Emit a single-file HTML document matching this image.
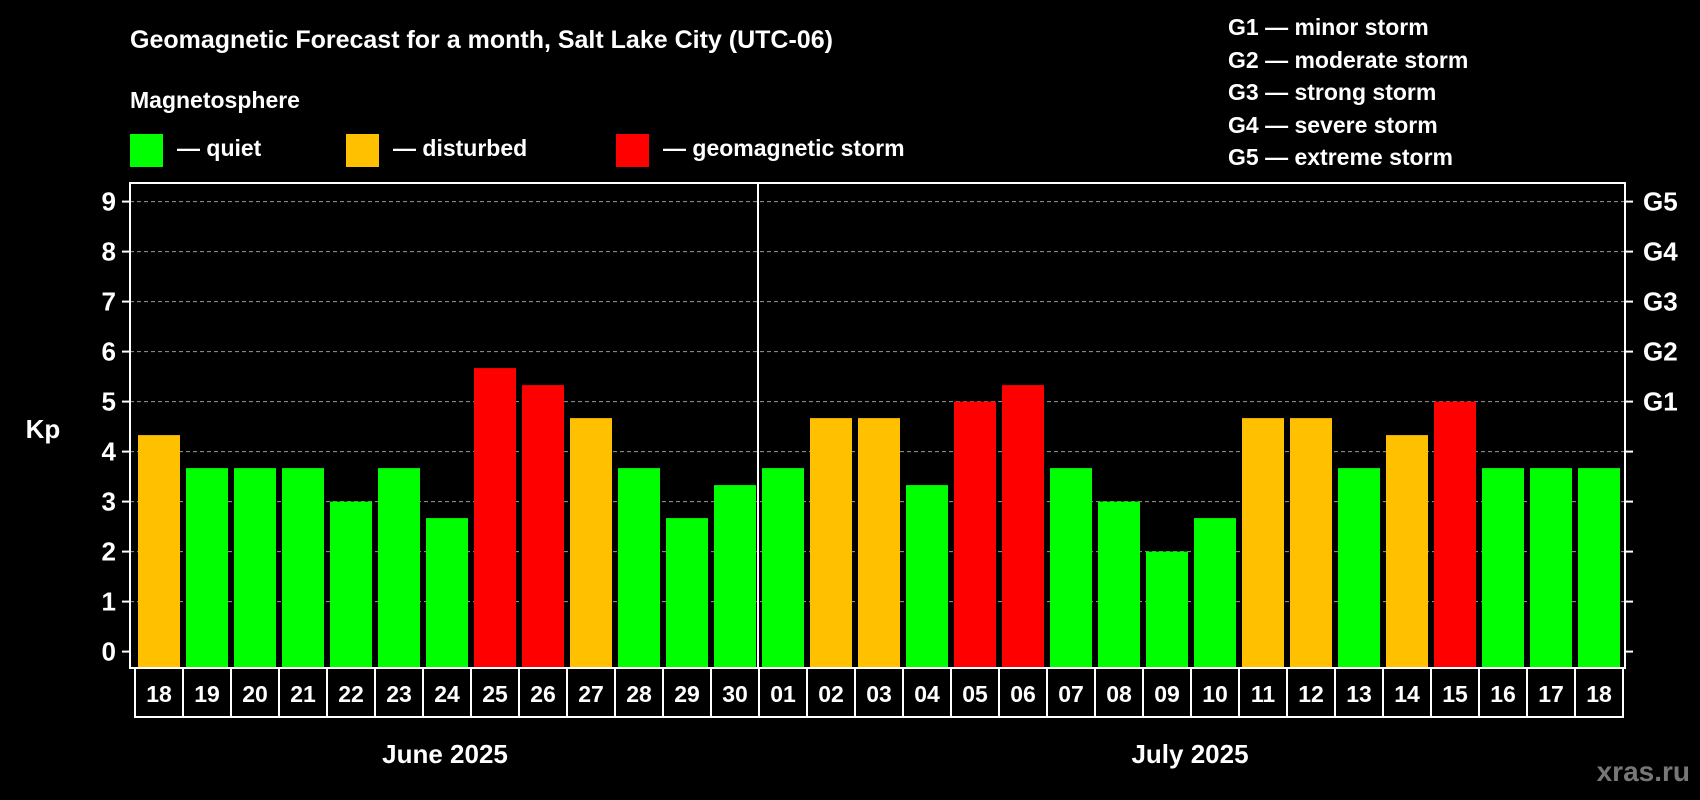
<!DOCTYPE html>
<html><head><meta charset="utf-8"><style>
html,body{margin:0;padding:0;background:#000;}
svg{display:block;font-family:"Liberation Sans",Arial,sans-serif;font-weight:bold;}
</style></head><body>
<svg id="chart" width="1700" height="800" viewBox="0 0 1700 800">
<rect width="1700" height="800" fill="#000"/>
<text x="130" y="48" fill="#fff" font-size="25">Geomagnetic Forecast for a month, Salt Lake City (UTC-06)</text>
<text x="130" y="108" fill="#fff" font-size="23">Magnetosphere</text>
<g><rect x="130" y="134" width="33" height="33" fill="#00ff00"/><text x="177" y="156" fill="#fff" font-size="23">— quiet</text></g>
<g><rect x="346" y="134" width="33" height="33" fill="#ffc000"/><text x="393" y="156" fill="#fff" font-size="23">— disturbed</text></g>
<g><rect x="616" y="134" width="33" height="33" fill="#ff0000"/><text x="663" y="156" fill="#fff" font-size="23">— geomagnetic storm</text></g>
<g fill="#fff" font-size="23">
<text x="1228" y="35">G1 — minor storm</text>
<text x="1228" y="68">G2 — moderate storm</text>
<text x="1228" y="100">G3 — strong storm</text>
<text x="1228" y="133">G4 — severe storm</text>
<text x="1228" y="165">G5 — extreme storm</text>
</g>
<text x="43" y="438" fill="#fff" font-size="26" text-anchor="middle">Kp</text>
<text x="1690" y="781" fill="#777" font-size="28" text-anchor="end">xras.ru</text>
<text x="445" y="763" fill="#fff" font-size="26" text-anchor="middle">June 2025</text>
<text x="1190" y="763" fill="#fff" font-size="26" text-anchor="middle">July 2025</text>
<g id="plot"></g>
</svg>
<script>
const days = ["18","19","20","21","22","23","24","25","26","27","28","29","30","01","02","03","04","05","06","07","08","09","10","11","12","13","14","15","16","17","18"];
const kpValues = [4.33,3.67,3.67,3.67,3,3.67,2.67,5.67,5.33,4.67,3.67,2.67,3.33,3.67,4.67,4.67,3.33,5,5.33,3.67,3,2,2.67,4.67,4.67,3.67,4.33,5,3.67,3.67,3.67];
const levels = ["disturbed","quiet","quiet","quiet","quiet","quiet","quiet","storm","storm","disturbed","quiet","quiet","quiet","quiet","disturbed","disturbed","quiet","storm","storm","quiet","quiet","quiet","quiet","disturbed","disturbed","quiet","disturbed","storm","quiet","quiet","quiet"];
const yTicks = [0,1,2,3,4,5,6,7,8,9];
const gLabels = ["","","","","","G1","G2","G3","G4","G5"];
const colors = {quiet:"#00ff00",disturbed:"#ffc000",storm:"#ff0000"};
const NS="http://www.w3.org/2000/svg";
const plot=document.getElementById('plot');
const L=130,R=1625,T=183,B=668,cellX0=135,cellW=48;
function y(v){return 651.6-v*50;}
function x(i){return cellX0+i*cellW;}
function mk(tag,attrs,parent){const e=document.createElementNS(NS,tag);for(const k in attrs)e.setAttribute(k,attrs[k]);(parent||plot).appendChild(e);return e;}
yTicks.forEach((t,i)=>{
  if(t>0){const g=mk('line',{x1:L,x2:R,y1:y(t),y2:y(t),stroke:'#999','stroke-dasharray':'4,3','stroke-width':1});
  
  }
  const tk=mk('line',{x1:L-8,x2:L,y1:y(t),y2:y(t),stroke:'#fff','stroke-width':2});
  
  
  const tr=mk('line',{x1:R,x2:R+8,y1:y(t),y2:y(t),stroke:'#fff','stroke-width':2});
  
  
  const lb=mk('text',{x:L-14,y:y(t)+9,fill:'#fff','font-size':26,'text-anchor':'end'});
  lb.textContent=t;
  
  
  if(gLabels[i]){const gl=mk('text',{x:1643,y:y(t)+9,fill:'#fff','font-size':26});
  gl.textContent=gLabels[i];
  
  }
});
kpValues.forEach((v,i)=>{
  const b=mk('rect',{x:x(i)+3,y:y(v),width:42,height:B-y(v),fill:colors[levels[i]]});
  
  
  const c=mk('rect',{x:x(i),y:B,width:cellW,height:49,fill:'none',stroke:'#fff','stroke-width':2});
  
  
  const t=mk('text',{x:x(i)+cellW/2,y:B+34,fill:'#fff','font-size':23,'text-anchor':'middle'});
  t.textContent=days[i];
  
  
});
const fr=mk('rect',{x:L,y:T,width:R-L,height:B-T,fill:'none',stroke:'#fff','stroke-width':2});


const dv=mk('line',{x1:x(13)-1,x2:x(13)-1,y1:T,y2:B,stroke:'#fff','stroke-width':2});


</script>
</body></html>
